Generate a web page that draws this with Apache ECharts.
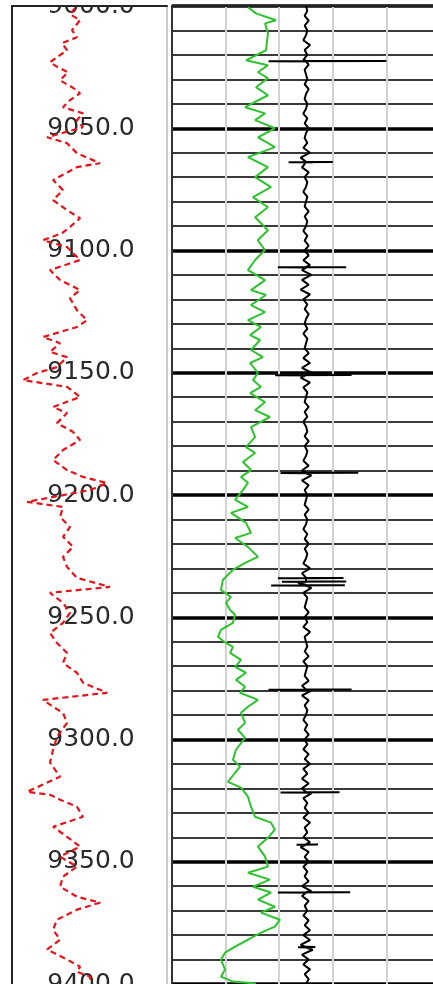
<!DOCTYPE html>
<html><head><meta charset="utf-8">
<script src="https://cdn.jsdelivr.net/npm/echarts@6/dist/echarts.min.js"></script>
<style>html,body{margin:0;padding:0;background:#fff}#c{width:433px;height:984px}</style>
</head><body><div id="c"></div><script>
// depth range
const depthMin = 9000, depthMax = 9400;
// Red dashed curve (left track): [depth, value]
const redCurve = [
[9000.9,40.6],[9003.4,37.4],[9005.8,43.9],[9009.9,38.7],[9012.8,41.9],[9015.2,32.3],[9018.1,35.5],
[9023.0,24.5],[9025.1,29.7],[9027.1,36.1],[9030.4,31.0],[9033.2,38.7],[9035.7,43.9],[9038.5,37.4],
[9041.4,32.9],[9043.9,45.8],[9046.7,41.9],[9049.6,45.8],[9053.7,22.6],[9056.1,35.5],[9060.2,41.9],
[9064.3,56.8],[9065.9,41.9],[9071.2,26.5],[9075.3,32.9],[9079.4,26.5],[9083.5,35.5],[9086.8,43.9],
[9090.4,37.4],[9092.9,32.3],[9095.8,20.0],[9098.6,35.5],[9103.9,43.9],[9108.0,24.5],[9112.1,31.0],
[9116.2,43.9],[9119.5,37.4],[9124.4,41.9],[9128.5,48.4],[9131.3,41.9],[9135.4,20.0],[9137.9,31.0],
[9141.5,24.5],[9143.6,35.5],[9147.7,29.0],[9150.1,16.1],[9153.0,7.1],[9155.8,35.5],[9159.9,43.9],
[9164.0,26.5],[9166.5,35.5],[9170.6,29.0],[9174.2,39.4],[9177.5,43.9],[9181.6,32.9],[9185.7,26.5],
[9189.8,35.5],[9192.6,45.8],[9195.1,61.3],[9198.0,50.3],[9202.8,9.7],[9204.9,32.9],[9209.0,31.0],
[9213.1,37.4],[9217.1,32.9],[9221.2,39.4],[9225.3,32.9],[9229.4,35.5],[9233.9,41.9],[9237.6,63.2],
[9240.0,24.5],[9244.1,32.9],[9248.2,37.4],[9252.3,32.9],[9256.4,24.5],[9260.5,29.0],[9264.6,35.5],
[9268.7,32.9],[9272.7,41.9],[9276.8,45.8],[9280.9,61.3],[9283.8,20.0],[9286.6,26.5],[9289.1,32.9],
[9293.2,35.5],[9298.9,29.0],[9304.2,26.5],[9309.5,24.5],[9315.2,31.0],[9321.4,9.7],[9322.6,24.5],
[9324.6,31.0],[9327.5,41.9],[9331.6,45.8],[9335.7,26.5],[9339.8,35.5],[9343.8,43.9],[9347.9,31.0],
[9352.0,41.9],[9356.1,32.9],[9360.2,31.0],[9364.3,41.9],[9366.7,56.8],[9369.6,41.9],[9373.7,29.0],
[9377.8,26.5],[9381.9,31.0],[9385.9,22.6],[9390.0,35.5],[9392.9,43.9],[9395.0,41.9],[9397.0,50.3],
[9399.8,50.3]
];
// Green curve (right track): [depth, value]
const greenCurve = [
[9000.5,42.5],[9003.0,47.0],[9005.8,58.2],[9007.1,52.1],[9011.2,53.7],[9018.1,52.6],[9022.2,41.4],
[9024.2,53.7],[9027.1,48.1],[9029.5,53.7],[9033.2,47.0],[9036.5,53.7],[9041.4,40.9],[9043.9,52.1],
[9046.7,46.5],[9050.0,57.6],[9053.7,48.1],[9057.7,57.6],[9061.8,42.5],[9065.9,53.7],[9070.0,46.5],
[9074.1,55.4],[9078.2,45.3],[9082.3,53.7],[9086.4,46.5],[9091.7,53.7],[9095.8,48.0],[9099.8,52.0],
[9103.9,46.5],[9108.0,42.5],[9112.1,52.1],[9116.2,44.2],[9118.2,52.6],[9122.3,44.2],[9125.2,52.1],
[9128.5,42.5],[9131.3,49.8],[9134.6,43.7],[9136.6,49.3],[9140.7,44.2],[9143.6,50.9],[9146.0,43.7],
[9150.1,48.1],[9153.0,45.3],[9155.8,49.8],[9158.3,43.7],[9162.0,52.1],[9165.3,46.5],[9168.1,54.8],
[9172.2,44.2],[9176.3,46.5],[9180.4,41.4],[9182.8,46.5],[9186.5,39.7],[9189.8,44.2],[9192.6,38.6],
[9195.0,42.5],[9198.0,39.7],[9202.0,35.3],[9204.9,42.5],[9207.3,33.0],[9211.4,41.4],[9215.5,44.2],
[9217.6,35.3],[9221.2,42.5],[9225.3,48.1],[9227.8,40.9],[9230.6,34.1],[9234.7,28.5],[9238.8,27.4],
[9241.7,33.0],[9244.1,30.2],[9247.0,32.5],[9249.0,35.3],[9252.3,34.1],[9255.2,27.4],[9258.0,25.7],
[9260.5,30.2],[9262.1,34.1],[9264.6,32.5],[9267.4,38.6],[9270.3,35.3],[9272.7,41.4],[9275.6,35.8],
[9278.4,40.9],[9280.9,38.1],[9283.8,48.1],[9286.6,42.5],[9289.1,38.6],[9293.2,40.9],[9296.0,36.9],
[9299.3,40.9],[9304.2,35.8],[9308.3,34.1],[9311.1,38.1],[9313.6,35.3],[9317.3,31.3],[9319.7,38.6],
[9323.4,42.5],[9327.5,44.2],[9331.6,46.5],[9334.0,55.4],[9336.9,57.6],[9340.2,53.7],[9343.8,48.1],
[9347.9,52.1],[9352.0,53.7],[9354.5,42.5],[9357.3,54.8],[9360.2,45.3],[9362.6,55.4],[9365.5,48.1],
[9368.4,57.6],[9370.8,49.8],[9373.7,60.4],[9376.5,57.6],[9379.0,49.8],[9381.9,42.5],[9384.7,35.3],
[9387.2,29.7],[9390.0,27.4],[9394.1,29.7],[9397.0,27.4],[9399.0,34.1],[9399.8,47.0]
];
// Black curve: baseline every 2 depth units from 9000, plus spikes [depth, left, right]
const blackStep = 2;
const blackBase = [
0,1,-1,2,-1,1,0,-2,3,-1,
1,-2,2,-1,0,1,-1,2,0,-1,
1,0,-2,1,-1,2,0,-1,1,-2,
3,-4,5,-3,2,-1,1,0,-2,1,
0,-1,2,-1,1,0,-2,1,-1,2,
-1,2,-2,3,-3,4,-3,2,-4,3,
-2,1,-1,2,0,-1,1,-2,1,0,
-1,2,-2,3,-3,4,-4,3,-2,1,
0,-1,2,-1,1,-2,0,1,-1,2,
-1,1,0,-2,2,-3,4,-3,2,-1,
1,0,-1,2,-1,1,0,-2,1,-1,
2,-1,1,0,-2,3,-3,5,-6,4,
-2,1,0,-1,2,-1,1,-2,3,-1,
0,1,-1,2,-2,1,0,-1,2,-3,
4,-3,2,-1,1,0,-2,1,-1,2,
-1,1,-2,2,-1,3,-2,1,-3,2,
-3,4,-2,1,-1,2,-2,3,-1,1,
-2,3,-4,2,-1,2,-2,1,-1,2,
-3,4,-3,2,-1,1,-2,2,-1,3,
-2,3,-4,5,-3,2,-2,3,-1,2,
0
];
const blackSpikes = [
[9022.6,-28,60],[9063.9,-13,20],[9106.9,-21,30],[9151.0,-23,34],[9191.0,-19,39],
[9234.0,-21,28],[9235.5,-18,30],[9237.0,-26,29],[9279.7,-28,34],[9321.7,-19,25],[9343.0,-7,9],
[9362.6,-21,33],[9385.0,-6,7]
];
const depthLabelStep = 50, minorStep = 10;

// build black series points (depth, value)
let blackPts = blackBase.map((v, i) => [depthMin + i * blackStep, v]);
blackSpikes.forEach(([d, l, r]) => {
  blackPts.push([d - 0.2, 0], [d - 0.1, r], [d, l], [d + 0.1, 0]);
});
blackPts.sort((a, b) => a[0] - b[0]);

const chart = echarts.init(document.getElementById('c'), null, {renderer: 'canvas'});
const gTop = 6, gH = 978;
const hidden = {show: false};
const option = {
  animation: false,
  backgroundColor: '#fff',
  grid: [
    {left: 12, top: gTop, width: 155, height: gH, containLabel: false, outerBoundsMode: 'none'},
    {left: 172, top: gTop, width: 268, height: gH, containLabel: false, outerBoundsMode: 'none'}
  ],
  xAxis: [
    {type: 'value', gridIndex: 0, min: 0, max: 100, position: 'top',
     axisLine: {show: true, lineStyle: {color: '#222', width: 2}}, axisTick: hidden, axisLabel: hidden, splitLine: hidden},
    {type: 'value', gridIndex: 1, min: 0, max: 150, interval: 30, position: 'top',
     axisLine: {show: true, lineStyle: {color: '#222', width: 2}}, axisTick: hidden, axisLabel: hidden,
     splitLine: {show: true, lineStyle: {color: '#d2d2d2', width: 2}}},
    {type: 'value', gridIndex: 1, min: -100, max: 100, show: false}
  ],
  yAxis: [
    {type: 'value', gridIndex: 0, min: depthMin, max: depthMax, interval: depthLabelStep, inverse: true, position: 'left',
     axisLine: {show: true, lineStyle: {color: '#222', width: 2}}, axisTick: hidden, splitLine: hidden,
     axisLabel: {show: true, inside: true, align: 'center', margin: 79, verticalAlign: 'middle', padding: [11, 0, 0, 0],
       fontFamily: 'DejaVu Sans', fontSize: 25, color: '#2a2a2a', showMinLabel: true, showMaxLabel: true,
       formatter: v => v.toFixed(1)}},
    {type: 'value', gridIndex: 0, min: depthMin, max: depthMax, inverse: true, position: 'right',
     axisLine: {show: true, lineStyle: {color: '#b8b8b8', width: 1.5}}, axisTick: hidden, axisLabel: hidden, splitLine: hidden},
    {type: 'value', gridIndex: 1, min: depthMin, max: depthMax, interval: minorStep, inverse: true, position: 'left',
     axisLine: {show: true, lineStyle: {color: '#333', width: 2}}, axisTick: hidden, axisLabel: hidden,
     splitLine: {show: true, lineStyle: {color: '#3a3a3a', width: 2}}},
    {type: 'value', gridIndex: 1, min: depthMin, max: depthMax, interval: depthLabelStep, inverse: true, position: 'left',
     axisLine: hidden, axisTick: hidden, axisLabel: hidden,
     splitLine: {show: true, lineStyle: {color: '#000', width: 3.5}}}
  ],
  series: [
    {type: 'line', xAxisIndex: 0, yAxisIndex: 0, symbol: 'none', clip: true,
     data: redCurve.map(([d, v]) => [v, d]),
     lineStyle: {color: '#e5141c', width: 2.2, type: [6, 4]}},
    {type: 'line', xAxisIndex: 1, yAxisIndex: 2, symbol: 'none', clip: true,
     data: greenCurve.map(([d, v]) => [v, d]),
     lineStyle: {color: '#2ec22e', width: 2}},
    {type: 'line', xAxisIndex: 2, yAxisIndex: 2, symbol: 'none', clip: true,
     data: blackPts.map(([d, v]) => [v, d]),
     lineStyle: {color: '#000', width: 2}}
  ],
  graphic: [
    {type: 'rect', shape: {x: 0, y: 0, width: 170, height: 5}, style: {fill: '#fff'}, z: 100}
  ]
};
chart.setOption(option);
</script></body></html>
